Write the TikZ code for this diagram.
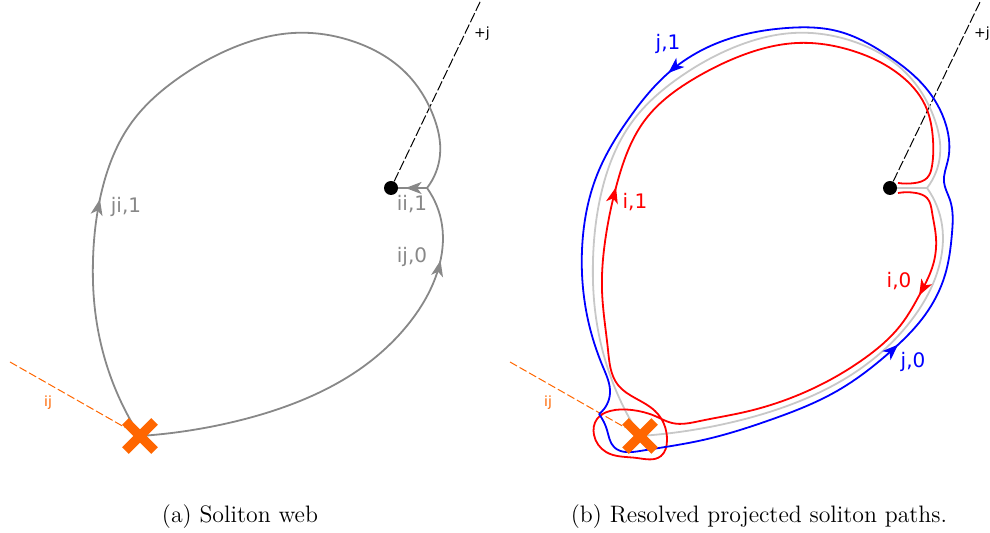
\documentclass[tikz,border=0pt]{standalone}
\usepackage{fontspec}
\newfontfamily\labelfont{DejaVu Sans}
\usepackage{xcolor}
\definecolor{webgray}{HTML}{888888}
\definecolor{palegray}{HTML}{C8C8C8}
\definecolor{brorange}{HTML}{FF6600}
\definecolor{ired}{HTML}{FF0000}
\definecolor{jblue}{HTML}{0000FF}
\usetikzlibrary{arrows.meta,positioning,calc,shapes.misc,backgrounds,
                decorations.markings,hobby}
\tikzset{
  >={Stealth[length=8pt,width=6pt,inset=2.2pt]},
  tipat/.style={postaction={decorate,decoration={markings,
                mark=at position #1 with {\arrow{>}}}}},
  web/.style    ={webgray,line width=0.9pt,use Hobby shortcut},
  paleweb/.style={palegray,line width=0.9pt,use Hobby shortcut},
  ipath/.style  ={ired,line width=0.9pt,use Hobby shortcut},
  jpath/.style  ={jblue,line width=0.9pt,use Hobby shortcut},
  dotnode/.style={circle,fill=black,inner sep=0pt,minimum size=7pt},
  branch/.style ={cross out,draw=brorange,line width=4.6pt,
                  minimum size=10pt,inner sep=0pt},
  cut/.style    ={draw=black,line width=0.5pt,dash pattern=on 5pt off 1.3pt},
  branchcut/.style={draw=brorange,line width=0.5pt,dash pattern=on 4pt off 1.5pt},
  lbl/.style    ={font=\labelfont\fontsize{10}{12}\selectfont,inner sep=1pt},
  lblsm/.style  ={font=\labelfont\fontsize{7}{8}\selectfont,inner sep=1pt},
  caption/.style={font=\fontsize{11.9}{14}\selectfont,inner sep=0pt},
}
\begin{document}
\begin{tikzpicture}[x=0.5pt,y=-0.5pt]
\useasboundingbox (0,0) rectangle (990,533);
% (a) soliton web
\node[branch] (xa) at (140,436) {};
\node[dotnode] (da) at (391,188) {};
\coordinate (ja) at (427,188);
\coordinate (ca) at (481,0);
\coordinate (ba) at (10,362);
\begin{scope}[on background layer]
\draw[cut] (da) -- (ca);
\draw[branchcut] (ba) -- (xa);
\draw[web,tipat=0.32] (xa.center) .. (110,375) .. (95,310) .. (93,260)
  .. (102,190) .. (132,122) .. (180,77) .. (240,45) .. (293,33) .. (355,42)
  .. (405,72) .. (433,115) .. (440,155) .. (ja);
\draw[web,tipat=0.83] (xa.center) .. (233,422) .. (300,401) .. (360,369)
  .. (410,322) .. (438,270) .. (442,225) .. (ja);
\draw[web,tipat=0.75] (ja) -- (da);
\end{scope}
\node[lbl,webgray] (lji) at (126,207) {ji,1};
\node[lbl,webgray] (lii) at (412,204) {ii,1};
\node[lbl,webgray] (lij) at (412,257) {ij,0};
\node[lblsm] (lca) at (482,34) {+j};
\node[lblsm,brorange] (lba) at (48,403) {ij};
\node[caption] (capa) at (240,517) {(a) Soliton web};

% (b) resolved paths
\node[branch] (xb) at (640,436) {};
\node[dotnode] (db) at (890,188) {};
\coordinate (jb) at (927,188);
\coordinate (cb) at (981,0);
\coordinate (bb) at (510,362);
\coordinate (iout) at (898,193);
\coordinate (iin) at (898,183);
\coordinate (jend) at (599,414);
\begin{scope}[on background layer]
\draw[cut] (db) -- (cb);
\draw[branchcut] (bb) -- (xb);
\draw[paleweb] (xb.center) .. (610,375) .. (595,310) .. (593,260)
  .. (602,190) .. (632,122) .. (680,77) .. (740,45) .. (793,33) .. (855,42)
  .. (905,72) .. (933,115) .. (940,155) .. (jb);
\draw[paleweb] (xb.center) .. (733,422) .. (800,401) .. (860,369)
  .. (910,322) .. (938,270) .. (942,225) .. (jb);
\draw[paleweb] (jb) -- (db);
% i
\draw[ipath,tipat=0.095,tipat=0.64] (iout) .. (916,193) .. (927,198)
  .. (932,212) .. (936,238) .. (933,265) .. (921,292) .. (900,326)
  .. (865,358) .. (803,393) .. (745,412) .. (700,421) .. (672,423)
  .. (655,416) .. (632,410) .. (610,411) .. (597,419) .. (594,435)
  .. (606,452) .. (637,458) .. (661,456) .. (667,440) .. (664,424)
  .. (655,411) .. (635,398) .. (618,385) .. (608,350) .. (602,290)
  .. (606,235) .. (618,180) .. (645,120) .. (697,77) .. (743,55)
  .. (797,43) .. (850,50) .. (900,75) .. (925,105) .. (933,140)
  .. (932,166) .. (927,178) .. (915,183) .. (iin);
% j
\draw[jpath,tipat=0.27,tipat=0.71] (jend) .. (607,430) .. (614,447)
  .. (640,451) .. (703,440) .. (770,420) .. (837,391) .. (890,352)
  .. (925,315) .. (945,275) .. (952,233) .. (950,200) .. (944,182)
  .. (948,160) .. (946,125) .. (925,87) .. (887,55) .. (837,31)
  .. (787,28) .. (720,42) .. (673,69) .. (630,117) .. (597,175)
  .. (582,250) .. (588,320) .. (603,367) .. (610,393) .. (jend);
\end{scope}
\node[lbl,jblue] (lj1) at (668,44) {j,1};
\node[lbl,ired] (li1) at (635,202) {i,1};
\node[lbl,ired] (li0) at (899,281) {i,0};
\node[lbl,jblue] (lj0) at (913,362) {j,0};
\node[lblsm] (lcb) at (982,34) {+j};
\node[lblsm,brorange] (lbb) at (548,403) {ij};
\node[caption] (capb) at (759,517) {(b) Resolved projected soliton paths.};
\end{tikzpicture}
\end{document}
